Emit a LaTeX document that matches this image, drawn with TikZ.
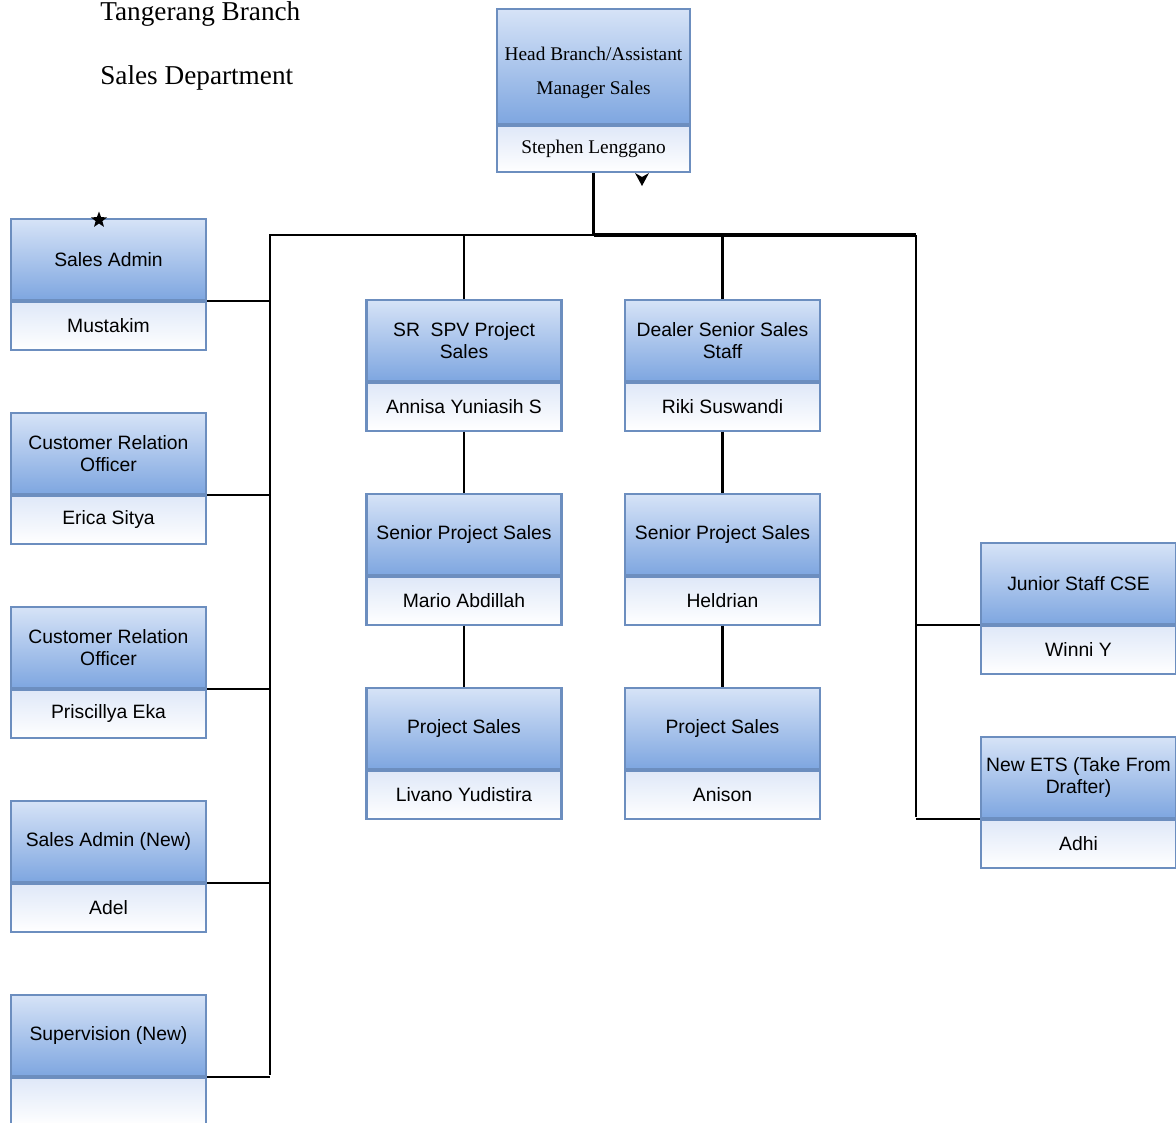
\documentclass[tikz,border=0pt]{standalone}
\usepackage{fontspec}
\setmainfont{Liberation Serif}
\setsansfont{Liberation Sans}
\usepackage{tikz}
\usetikzlibrary{positioning, shapes.geometric}
\definecolor{boxline}{HTML}{6C8EBF}
\definecolor{roletop}{HTML}{D6E3F7}
\definecolor{rolebot}{HTML}{7EA6E0}
\definecolor{nametop}{HTML}{DFE8F8}
\tikzset{
    role/.style={rectangle, draw=boxline, line width=1.2pt, top color=roletop, bottom color=rolebot, minimum width=3.9cm, minimum height=1.62cm, align=center, inner sep=1pt, font=\sffamily\fontsize{11}{13}\selectfont},
    person/.style={rectangle, draw=boxline, line width=1.2pt, top color=nametop, bottom color=white, minimum width=3.9cm, minimum height=0.95cm, align=center, inner sep=1pt, font=\sffamily\fontsize{11}{13}\selectfont},
    headrole/.style={role, minimum width=3.86cm, minimum height=2.3cm, font=\fontsize{11}{19}\selectfont},
    headperson/.style={person, minimum width=3.86cm, minimum height=0.92cm, font=\fontsize{11}{13}\selectfont},
    link/.style={draw=black, line width=1.4pt},
    heading/.style={anchor=base west, inner sep=0pt, font=\fontsize{15.5}{18}\selectfont}
}

\begin{document}
\begin{tikzpicture}[x=0.02cm, y=-0.02cm]
    \useasboundingbox (0,0) rectangle (1176,1122);

    % Headings
    \node[heading] (branch) at (100,21) {Tangerang Branch};
    \node[heading] (dept) at (100,85) {Sales Department};

    % Head of branch
    \node[headrole, anchor=north] (head) at (593.5,8) {\rule{0pt}{15pt}Head Branch/Assistant\\Manager Sales};
    \node[headperson, below=0pt of head] (headN) {Stephen Lenggano};

    % Left column
    \node[role, anchor=north] (sa) at (108.5,218) {Sales Admin};
    \node[person, below=0pt of sa] (saN) {Mustakim};
    \node[role, anchor=north] (croA) at (108.5,412) {Customer Relation\\Officer};
    \node[person, below=0pt of croA] (croAN) {Erica Sitya};
    \node[role, anchor=north] (croB) at (108.5,606) {Customer Relation\\Officer};
    \node[person, below=0pt of croB] (croBN) {Priscillya Eka};
    \node[role, anchor=north] (san) at (108.5,800) {Sales Admin (New)};
    \node[person, below=0pt of san] (sanN) {Adel};
    \node[role, anchor=north] (sup) at (108.5,994) {Supervision (New)};
    \node[person, below=0pt of sup] (supN) {};

    % Project column
    \node[role, anchor=north] (spv) at (464,299) {SR\ \ SPV Project\\Sales};
    \node[person, below=0pt of spv] (spvN) {Annisa Yuniasih S};
    \node[role, anchor=north] (spsA) at (464,493) {Senior Project Sales};
    \node[person, below=0pt of spsA] (spsAN) {Mario Abdillah};
    \node[role, anchor=north] (psA) at (464,687) {Project Sales};
    \node[person, below=0pt of psA] (psAN) {Livano Yudistira};

    % Dealer column
    \node[role, anchor=north] (dss) at (722.5,299) {Dealer Senior Sales\\Staff};
    \node[person, below=0pt of dss] (dssN) {Riki Suswandi};
    \node[role, anchor=north] (spsB) at (722.5,493) {Senior Project Sales};
    \node[person, below=0pt of spsB] (spsBN) {Heldrian};
    \node[role, anchor=north] (psB) at (722.5,687) {Project Sales};
    \node[person, below=0pt of psB] (psBN) {Anison};

    % Right column
    \node[role, anchor=north] (cse) at (1078.5,542) {Junior Staff CSE};
    \node[person, below=0pt of cse] (cseN) {Winni Y};
    \node[role, anchor=north] (ets) at (1078.5,736) {New ETS (Take From\\Drafter)};
    \node[person, below=0pt of ets] (etsN) {Adhi};

    % Trunk lines
    \coordinate (hub) at (593.5,235);
    \coordinate (lt) at (270,235);
    \coordinate (rt) at (916,235);
    \coordinate (lb) at (270,1075);
    \coordinate (rb) at (916,817);
    \draw[link] (headN.south) -- (hub);
    \draw[link] (hub) -- (lt) -- (lb);
    \draw[link, line width=2pt] (hub) -- (rt);
    \draw[link] (rt) -- (rb);

    % Branches
    \foreach \n in {sa, croA, croB, san, sup} {
        \draw[link] (\n.south east) -- (\n.south east -| lt);
    }
    \foreach \n in {cse, ets} {
        \draw[link] (\n.south west) -- (\n.south west -| rt);
    }
    \foreach \n in {spv, dss} {
        \draw[link] (\n.north) -- (\n.north |- lt);
    }
    \draw[link] (spvN) -- (spsA);
    \draw[link] (spsAN) -- (psA);
    \draw[link] (dssN) -- (spsB);
    \draw[link] (spsBN) -- (psB);

    % Stray marks
    \node[star, star points=5, star point ratio=2.4, fill=black, inner sep=0pt, minimum size=0.34cm] (tip) at (99,220) {};
    \fill (635,173) -- (642,186) -- (649,173) -- (642,177) -- cycle;
\end{tikzpicture}
\end{document}
